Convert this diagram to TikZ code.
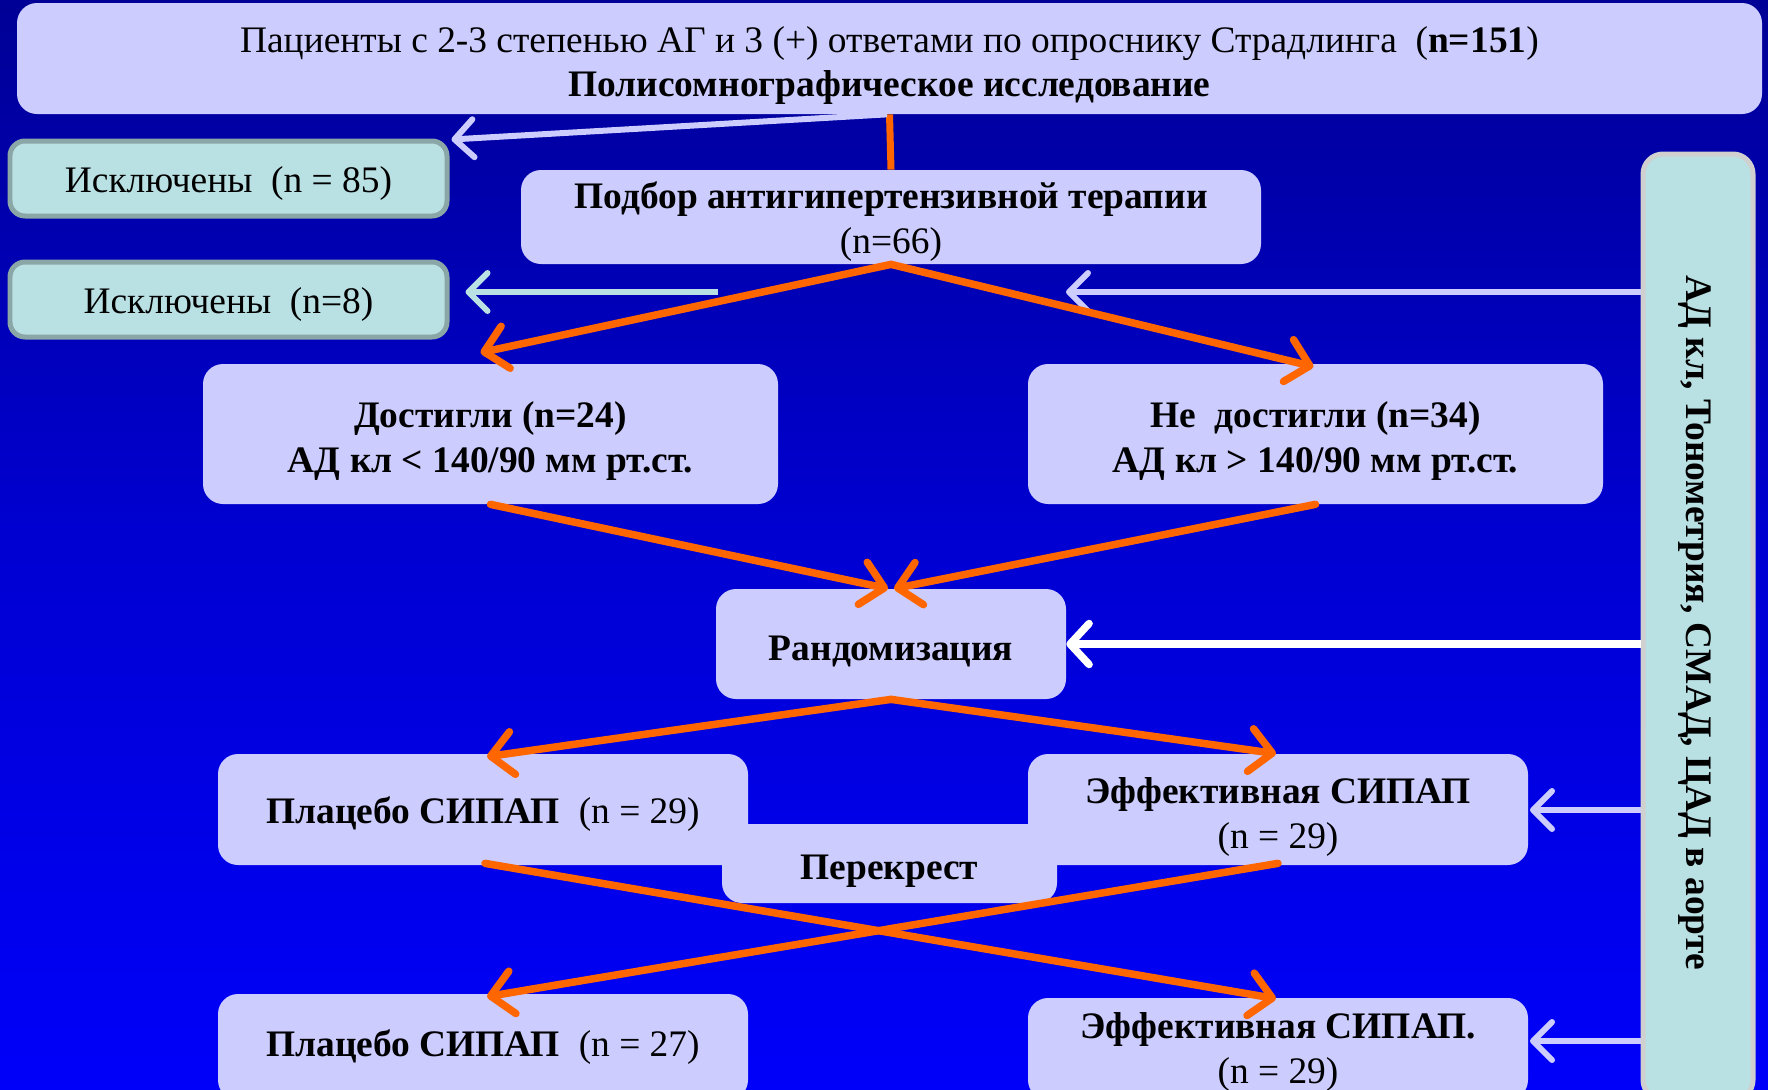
\documentclass[tikz,border=0pt]{standalone}
\usepackage{fontspec}
\setmainfont{Liberation Serif}
\usetikzlibrary{arrows.meta}
\definecolor{lav}{RGB}{204,204,255}
\definecolor{tealfill}{RGB}{185,224,227}
\definecolor{tealbd}{RGB}{138,166,166}
\definecolor{rgray}{RGB}{208,208,208}
\definecolor{orng}{RGB}{255,102,0}
\definecolor{bgtop}{RGB}{0,0,150}
\definecolor{bgmid}{RGB}{0,0,210}
\definecolor{bgbot}{RGB}{0,0,250}
\newcommand\fsz[1]{\fontsize{#1}{25.6}\selectfont}
\tikzset{
  lbox/.style={fill=lav, rounded corners=0.4cm, inner sep=0pt},
  tbox/.style={fill=tealfill, draw=tealbd, line width=0.1cm, rounded corners=0.3cm, inner sep=0pt},
  txt/.style={inner sep=0pt, align=center, font=\fsz{21.3}\bfseries},
  ntxt/.style={inner sep=0pt, align=center, font=\fsz{21.3}},
  orarrow/.style={draw=orng, line width=0.15cm, line cap=round, -{Straight Barb[length=0.44cm, width=0.86cm, line cap=round, line join=round]}},
  lavarrow/.style={draw=lav, line width=0.12cm, -{Straight Barb[length=0.38cm, width=0.76cm, line cap=round, line join=round]}},
  tealarrow/.style={draw=tealfill, line width=0.12cm, -{Straight Barb[length=0.38cm, width=0.76cm, line cap=round, line join=round]}},
  whitearrow/.style={draw=white, line width=0.15cm, -{Straight Barb[length=0.38cm, width=0.82cm, line cap=round, line join=round]}},
}
\begin{document}
\begin{tikzpicture}[x=0.02cm, y=-0.02cm]
\useasboundingbox (0,0) rectangle (1768,1089);
\shade[top color=bgtop, bottom color=bgbot, middle color=bgmid] (0,0) rectangle (1768,1089);
\begin{scope}
\clip (0,0) rectangle (1768,1089);
% boxes
\node[lbox, minimum width=1745*0.02cm, minimum height=111*0.02cm] (top) at (889.5,58.5) {};
\node[tbox, minimum width=437*0.02cm, minimum height=75*0.02cm] (ex85) at (228.5,178.5) {};
\node[tbox, minimum width=437*0.02cm, minimum height=75*0.02cm] (ex8) at (228.5,299.5) {};
\node[lbox, minimum width=740*0.02cm, minimum height=94*0.02cm] (pod) at (891,217) {};
\node[lbox, minimum width=575*0.02cm, minimum height=140*0.02cm] (dost) at (490.5,434) {};
\node[lbox, minimum width=575*0.02cm, minimum height=140*0.02cm] (nedost) at (1315.5,434) {};
\node[lbox, minimum width=350*0.02cm, minimum height=110*0.02cm] (rand) at (891,644) {};
\node[lbox, minimum width=335*0.02cm, minimum height=79*0.02cm] (perek) at (889.5,863.5) {};
\node[lbox, minimum width=530*0.02cm, minimum height=111*0.02cm] (pl29) at (483,809.5) {};
\node[lbox, minimum width=500*0.02cm, minimum height=111*0.02cm] (ef1) at (1278,809.5) {};
\node[lbox, minimum width=530*0.02cm, minimum height=106*0.02cm] (pl27) at (483,1047) {};
\node[lbox, minimum width=500*0.02cm, minimum height=102*0.02cm] (ef2) at (1278,1049) {};
\node[fill=tealfill, draw=rgray, line width=0.1cm, rounded corners=0.4cm, inner sep=0pt, minimum width=110*0.02cm, minimum height=946*0.02cm] (right) at (1698,627) {};
% texts
\node[ntxt] (topT) at ([shift={(0,7)}]top.center)
  {Пациенты с 2-3 степенью АГ и 3 (+) ответами по опроснику Страдлинга~ (\textbf{n=151})\\ \bfseries Полисомнографическое исследование};
\node[ntxt] (ex85T) at ([shift={(0,5)}]ex85.center) {Исключены~ (n = 85)};
\node[ntxt] (ex8T) at ([shift={(0,5)}]ex8.center) {Исключены~ (n=8)};
\node[txt] (podT) at ([shift={(0,5)}]pod.center) {Подбор антигипертензивной терапии\\ \mdseries (n=66)};
\node[txt] (dostT) at ([shift={(0,7)}]dost.center) {Достигли (n=24)\\ АД кл < 140/90 мм рт.ст.};
\node[txt] (nedostT) at ([shift={(0,7)}]nedost.center) {Не~ достигли (n=34)\\ АД кл > 140/90 мм рт.ст.};
\node[txt] (randT) at ([shift={(0,7)}]rand.center) {Рандомизация};
\node[txt] (perekT) at ([shift={(0,8)}]perek.center) {Перекрест};
\node[txt] (pl29T) at ([shift={(0,5)}]pl29.center) {Плацебо СИПАП~ \mdseries(n = 29)};
\node[txt] (ef1T) at ([shift={(0,7)}]ef1.center) {Эффективная СИПАП\\ \mdseries(n = 29)};
\node[txt] (pl27T) at ([shift={(0,0)}]pl27.center) {Плацебо СИПАП~ \mdseries(n = 27)};
\node[txt] (ef2T) at ([shift={(0,3)}]ef2.center) {Эффективная СИПАП.\\ \mdseries(n = 29)};
\node[txt, rotate=-90] (rtxt) at (1695,623) {АД кл, Тонометрия, СМАД, ЦАД в аорте};
% coordinates
\coordinate (tealstart) at (718,292);
\coordinate (a1) at (1066,292);
\coordinate (a2) at (1530,810);
\coordinate (a3) at (1530,1041);
% connectors
\draw[draw=orng, line width=0.14cm] (top.south) -- (pod.north);
\draw[lavarrow] ([xshift=-0.05cm]top.south) -- ([shift={(2,1)}]ex85.north east);
\draw[tealarrow] (tealstart) -- ([shift={(16,-7.5)}]ex8.east);
\draw[lavarrow] (right.west |- a1) -- (a1);
\draw[orarrow] (pod.south) -- ([shift={(-10,-11)}]dost.north);
\draw[orarrow] (pod.south) -- ([shift={(-2,3)}]nedost.north);
\draw[orarrow] (dost.south) -- ([shift={(-3,0)}]rand.north);
\draw[orarrow] (nedost.south) -- ([shift={(3,0)}]rand.north);
\draw[whitearrow] (right.west |- rand.east) -- (rand.east);
\draw[orarrow] (rand.south) -- ([shift={(4,3)}]pl29.north);
\draw[orarrow] (rand.south) -- ([shift={(-2,0)}]ef1.north);
\draw[orarrow] ([shift={(2,-2)}]pl29.south) -- ([shift={(-2,1)}]ef2.north);
\draw[orarrow] ([shift={(0,-2)}]ef1.south) -- ([shift={(4,3)}]pl27.north);
\draw[lavarrow] (right.west |- a2) -- (a2);
\draw[lavarrow] (right.west |- a3) -- (a3);
\end{scope}
\end{tikzpicture}
\end{document}
